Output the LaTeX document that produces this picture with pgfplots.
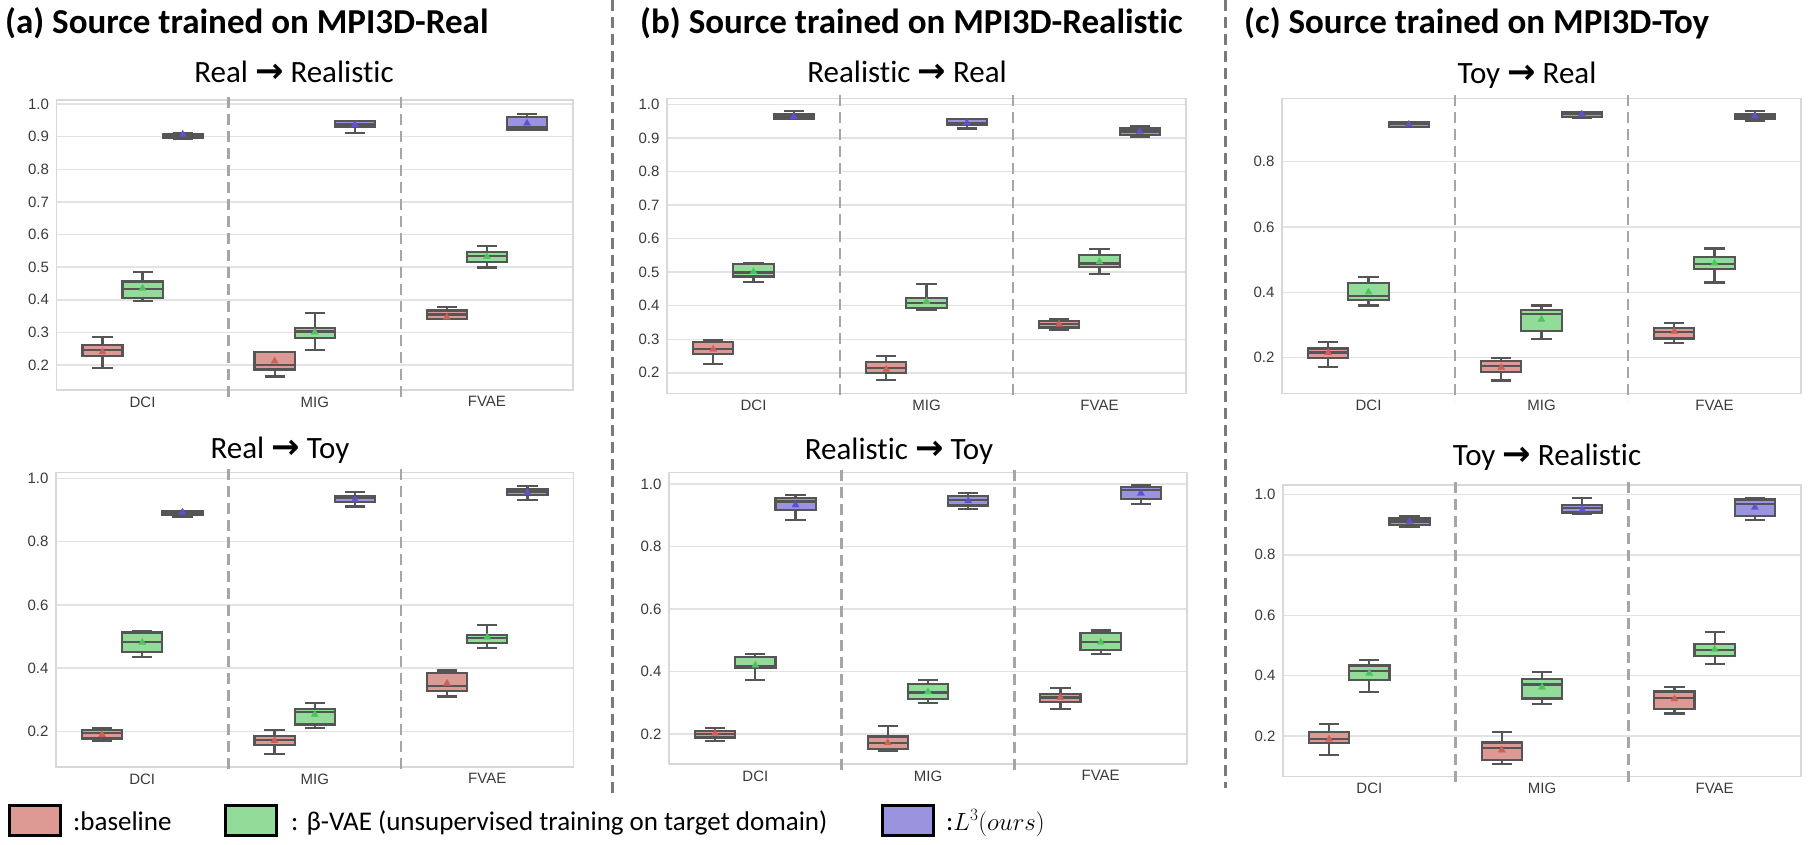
\documentclass[border=0pt]{standalone}
\usepackage{fontspec}
\setmainfont{Carlito}[Ligatures=NoCommon, RawFeature={-calt;-dlig}]
\newfontfamily\lib{Liberation Sans}
\newfontfamily\dejavu{DejaVu Sans}
\usepackage{pgfplots}
\pgfplotsset{compat=1.18}
\usepgfplotslibrary{statistics}
\definecolor{cred}{HTML}{DD9A94}
\definecolor{cgreen}{HTML}{93DB98}
\definecolor{cpurple}{HTML}{9A93DD}
\definecolor{mcred}{HTML}{CF5F57}
\definecolor{mcgreen}{HTML}{4FC45E}
\definecolor{mcpurple}{HTML}{5E52D0}
\definecolor{edge}{HTML}{555555}
\definecolor{gridc}{HTML}{E3E3E3}
\definecolor{framec}{HTML}{D8D8D8}
\definecolor{tickc}{HTML}{3A3A3A}
\definecolor{innerc}{HTML}{A6A6A6}
\definecolor{sepc}{HTML}{7A7A7A}
\newcommand{\Rlc}{Realist\kern0pt ic}

% position, lower whisker, q1, median, q3, upper whisker, mean, colour
\newcommand{\bx}[8]{%
 \addplot[draw=edge, fill=#8, line width=2.2pt, solid,
   boxplot prepared={draw position=#1, lower whisker=#2, lower quartile=#3,
   median=#4, upper quartile=#5, upper whisker=#6,
   box extend=0.233, whisker extend=0.117}] coordinates {};
 \addplot[only marks, mark=triangle*, mark size=4.2pt,
   mark options={fill=m#8, draw=m#8, line width=0.2pt, solid}] coordinates {(#1,#7)};
}
\newcommand{\innerlines}{%
 \draw[innerc, line width=2.6pt, dash pattern=on 11pt off 6pt]
   ([yshift=3pt]rel axis cs:0.33333,1) -- ([yshift=-8pt]rel axis cs:0.33333,0);
 \draw[innerc, line width=2.6pt, dash pattern=on 11pt off 6pt]
   ([yshift=3pt]rel axis cs:0.66667,1) -- ([yshift=-8pt]rel axis cs:0.66667,0);
}
\pgfplotsset{panel/.style={
 scale only axis, anchor=north west,
 xmin=-0.5, xmax=2.5, xtick={0,1,2}, xticklabels={DCI,MIG,FVAE},
 axis line style={draw=framec, line width=1.5pt},
 major tick length=0pt,
 ymajorgrids, grid style={draw=gridc, line width=1.5pt},
 tick label style={font=\lib\fontsize{15}{18}\selectfont, text=tickc},
 /pgf/number format/assume math mode=true,
 yticklabel style={/pgf/number format/fixed, /pgf/number format/fixed zerofill,
   /pgf/number format/precision=1, xshift=-4pt},
 xticklabel style={yshift=-3pt},
 clip=false, boxplot/draw direction=y,
}}
\newcommand{\subt}[2]{{\fontsize{31}{36}\selectfont #1 {\dejavu\bfseries\fontsize{34}{36}\selectfont →} #2}}

\begin{document}
\begin{tikzpicture}
\useasboundingbox (0pt,0pt) rectangle (1808pt,-844pt);

% panel titles
\node[anchor=base west, inner sep=0pt, font=\bfseries\fontsize{35}{42}\selectfont] at (5pt,-33pt) {(a) Source trained on MPI3D-Real};
\node[anchor=base west, inner sep=0pt, font=\bfseries\fontsize{35}{42}\selectfont] at (640pt,-33pt) {(b) Source trained on MPI3D-\Rlc};
\node[anchor=base west, inner sep=0pt, font=\bfseries\fontsize{35}{42}\selectfont] at (1244pt,-33pt) {(c) Source trained on MPI3D-Toy};

% subtitles
\node[anchor=base, inner sep=0pt] at (294pt,-82.5pt) {\subt{Real}{\Rlc}};
\node[anchor=base, inner sep=0pt] at (280pt,-458pt) {\subt{Real}{Toy}};
\node[anchor=base, inner sep=0pt] at (907pt,-82.5pt) {\subt{\Rlc}{Real}};
\node[anchor=base, inner sep=0pt] at (899pt,-459pt) {\subt{\Rlc}{Toy}};
\node[anchor=base, inner sep=0pt] at (1527pt,-83pt) {\subt{Toy}{Real}};
\node[anchor=base, inner sep=0pt] at (1547pt,-465pt) {\subt{Toy}{\Rlc}};

% separators
\draw[sepc, line width=3pt, dash pattern=on 11pt off 6pt] (612pt,0pt) -- (612pt,-797pt);
\draw[sepc, line width=3pt, dash pattern=on 11pt off 6pt] (1225pt,0pt) -- (1225pt,-788pt);

% (a) Real -> Realistic
\begin{axis}[panel, at={(56.5pt,-100pt)}, width=516.5pt, height=290pt,
  ymin=0.1234, ymax=1.0123, ytick={0.2,0.3,0.4,0.5,0.6,0.7,0.8,0.9,1.0}]
\innerlines
\bx{-0.233}{0.190}{0.228}{0.245}{0.261}{0.287}{0.240}{cred}
\bx{0}{0.397}{0.405}{0.433}{0.456}{0.486}{0.435}{cgreen}
\bx{0.233}{0.892}{0.895}{0.903}{0.909}{0.912}{0.907}{cpurple}
\bx{0.767}{0.165}{0.186}{0.200}{0.240}{0.240}{0.212}{cred}
\bx{1}{0.247}{0.282}{0.303}{0.313}{0.359}{0.300}{cgreen}
\bx{1.233}{0.910}{0.931}{0.939}{0.948}{0.949}{0.936}{cpurple}
\bx{1.767}{0.342}{0.342}{0.355}{0.367}{0.379}{0.346}{cred}
\bx{2}{0.499}{0.516}{0.534}{0.546}{0.565}{0.532}{cgreen}
\bx{2.233}{0.920}{0.922}{0.930}{0.961}{0.969}{0.941}{cpurple}
\end{axis}

% (a) Real -> Toy
\begin{axis}[panel, at={(56pt,-472.3pt)}, width=517.5pt, height=294.7pt,
  ymin=0.088, ymax=1.019, ytick={0.2,0.4,0.6,0.8,1.0}]
\innerlines
\bx{-0.233}{0.169}{0.178}{0.196}{0.206}{0.212}{0.190}{cred}
\bx{0}{0.435}{0.451}{0.482}{0.513}{0.518}{0.481}{cgreen}
\bx{0.233}{0.879}{0.883}{0.889}{0.895}{0.898}{0.893}{cpurple}
\bx{0.767}{0.129}{0.158}{0.174}{0.185}{0.206}{0.171}{cred}
\bx{1}{0.210}{0.222}{0.262}{0.272}{0.289}{0.254}{cgreen}
\bx{1.233}{0.911}{0.924}{0.937}{0.944}{0.958}{0.932}{cpurple}
\bx{1.767}{0.311}{0.329}{0.345}{0.385}{0.393}{0.352}{cred}
\bx{2}{0.465}{0.481}{0.495}{0.505}{0.537}{0.498}{cgreen}
\bx{2.233}{0.932}{0.947}{0.958}{0.965}{0.977}{0.955}{cpurple}
\end{axis}

% (b) Realistic -> Real
\begin{axis}[panel, at={(667pt,-98.3pt)}, width=519pt, height=295pt,
  ymin=0.139, ymax=1.018, ytick={0.2,0.3,0.4,0.5,0.6,0.7,0.8,0.9,1.0}]
\innerlines
\bx{-0.233}{0.226}{0.255}{0.270}{0.292}{0.298}{0.270}{cred}
\bx{0}{0.471}{0.487}{0.499}{0.525}{0.528}{0.501}{cgreen}
\bx{0.233}{0.956}{0.958}{0.966}{0.972}{0.980}{0.963}{cpurple}
\bx{0.767}{0.179}{0.200}{0.215}{0.233}{0.250}{0.210}{cred}
\bx{1}{0.387}{0.392}{0.407}{0.424}{0.464}{0.412}{cgreen}
\bx{1.233}{0.928}{0.938}{0.945}{0.956}{0.956}{0.945}{cpurple}
\bx{1.767}{0.328}{0.335}{0.345}{0.355}{0.359}{0.345}{cred}
\bx{2}{0.495}{0.516}{0.526}{0.551}{0.570}{0.531}{cgreen}
\bx{2.233}{0.904}{0.909}{0.919}{0.928}{0.936}{0.919}{cpurple}
\end{axis}

% (b) Realistic -> Toy
\begin{axis}[panel, at={(669pt,-472.7pt)}, width=518pt, height=291.3pt,
  ymin=0.104, ymax=1.036, ytick={0.2,0.4,0.6,0.8,1.0}]
\innerlines
\bx{-0.233}{0.178}{0.189}{0.200}{0.210}{0.218}{0.202}{cred}
\bx{0}{0.372}{0.410}{0.417}{0.447}{0.457}{0.420}{cgreen}
\bx{0.233}{0.885}{0.917}{0.944}{0.954}{0.965}{0.933}{cpurple}
\bx{0.767}{0.147}{0.151}{0.170}{0.192}{0.226}{0.172}{cred}
\bx{1}{0.298}{0.312}{0.333}{0.359}{0.374}{0.335}{cgreen}
\bx{1.233}{0.919}{0.931}{0.949}{0.962}{0.970}{0.946}{cpurple}
\bx{1.767}{0.279}{0.303}{0.317}{0.327}{0.346}{0.317}{cred}
\bx{2}{0.457}{0.468}{0.494}{0.524}{0.531}{0.494}{cgreen}
\bx{2.233}{0.936}{0.951}{0.981}{0.989}{0.997}{0.970}{cpurple}
\end{axis}

% (c) Toy -> Real
\begin{axis}[panel, at={(1282pt,-98.3pt)}, width=519pt, height=295pt,
  ymin=0.091, ymax=0.994, ytick={0.2,0.4,0.6,0.8}]
\innerlines
\bx{-0.233}{0.172}{0.200}{0.216}{0.228}{0.247}{0.215}{cred}
\bx{0}{0.360}{0.377}{0.390}{0.428}{0.446}{0.401}{cgreen}
\bx{0.233}{0.905}{0.907}{0.915}{0.920}{0.922}{0.914}{cpurple}
\bx{0.767}{0.130}{0.157}{0.175}{0.190}{0.200}{0.170}{cred}
\bx{1}{0.258}{0.282}{0.334}{0.346}{0.360}{0.317}{cgreen}
\bx{1.233}{0.933}{0.936}{0.945}{0.951}{0.953}{0.945}{cpurple}
\bx{1.767}{0.244}{0.259}{0.278}{0.292}{0.307}{0.280}{cred}
\bx{2}{0.430}{0.471}{0.487}{0.509}{0.534}{0.489}{cgreen}
\bx{2.233}{0.924}{0.931}{0.938}{0.946}{0.954}{0.940}{cpurple}
\end{axis}

% (c) Toy -> Realistic
\begin{axis}[panel, at={(1283pt,-485pt)}, width=518pt, height=291.7pt,
  ymin=0.066, ymax=1.031, ytick={0.2,0.4,0.6,0.8,1.0}]
\innerlines
\bx{-0.233}{0.138}{0.178}{0.192}{0.213}{0.241}{0.190}{cred}
\bx{0}{0.345}{0.386}{0.416}{0.434}{0.452}{0.408}{cgreen}
\bx{0.233}{0.891}{0.899}{0.910}{0.920}{0.929}{0.910}{cpurple}
\bx{0.767}{0.108}{0.121}{0.162}{0.179}{0.215}{0.154}{cred}
\bx{1}{0.307}{0.325}{0.371}{0.389}{0.413}{0.362}{cgreen}
\bx{1.233}{0.937}{0.940}{0.954}{0.964}{0.987}{0.948}{cpurple}
\bx{1.767}{0.275}{0.291}{0.326}{0.348}{0.362}{0.323}{cred}
\bx{2}{0.438}{0.466}{0.485}{0.505}{0.544}{0.487}{cgreen}
\bx{2.233}{0.915}{0.928}{0.968}{0.983}{0.989}{0.957}{cpurple}
\end{axis}

% legend
\draw[black, line width=2.7pt, fill=cred] (9.3pt,-805.3pt) rectangle (60.7pt,-835.7pt);
\draw[black, line width=2.7pt, fill=cgreen] (225.3pt,-805.3pt) rectangle (276.7pt,-835.7pt);
\draw[black, line width=2.7pt, fill=cpurple] (882.3pt,-805.3pt) rectangle (933.7pt,-835.7pt);
\node[anchor=base west, inner sep=0pt, font=\fontsize{27}{32}\selectfont] at (73pt,-830pt) {:baseline};
\node[anchor=base west, inner sep=0pt, font=\fontsize{27}{32}\selectfont] at (291pt,-830pt) {: β-VAE (unsupervised training on target domain)};
\node[anchor=base west, inner sep=0pt, font=\fontsize{27}{32}\selectfont] at (946pt,-830pt) {:$L^3(ours)$};
\end{tikzpicture}
\end{document}
